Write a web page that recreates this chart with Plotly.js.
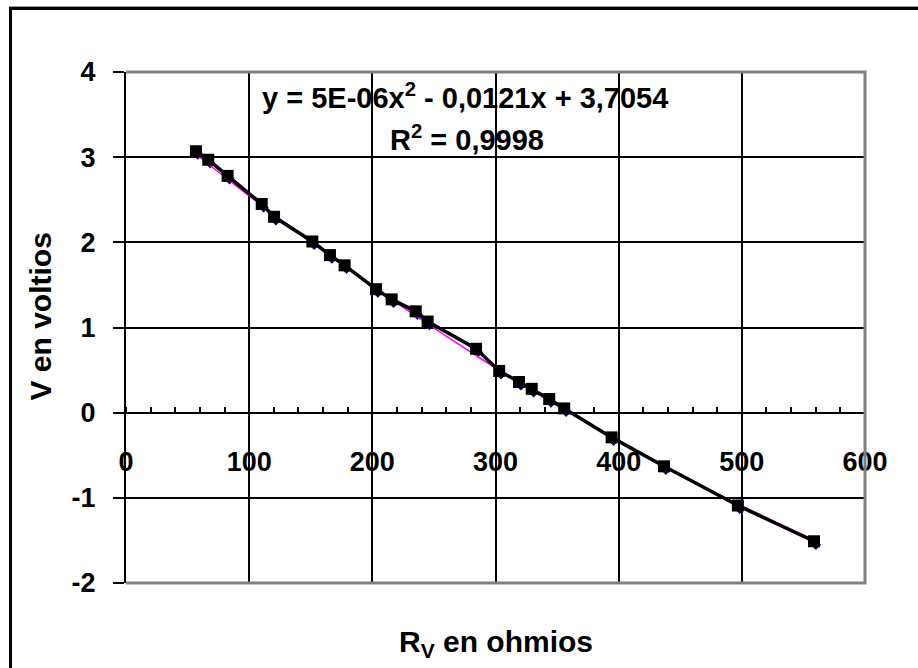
<!DOCTYPE html>
<html>
<head>
<meta charset="utf-8">
<script src="https://cdn.plot.ly/plotly-3.0.1.min.js"></script>
<style>
  html, body { margin: 0; padding: 0; background: #fff; }
  #wrap { position: relative; width: 918px; height: 668px; overflow: hidden; }
  #chart { position: absolute; left: 0; top: 0; width: 918px; height: 668px; }
  #frame { position: absolute; left: 9px; top: 7px; width: 1200px; height: 1200px;
           border-top: 3px solid #000; border-left: 3px solid #000;
           box-shadow: 0 -1px 0 #a0a0a0; pointer-events: none; }
</style>
</head>
<body>
<div id="wrap">
  <div id="chart"></div>
  <div id="frame"></div>
</div>
<script>
// Resistance (ohms) and voltage (V) — black squares series
const rSquares = [56.8, 66.8, 82.5, 110.2, 120.2, 151.3, 165.6, 177.5, 203, 215.7, 235.2, 244.9, 284.2, 303, 319.1, 329.4, 343.6, 355.8, 394.3, 436.8, 496.8, 558.6];
const vSquares = [3.07, 2.97, 2.78, 2.45, 2.30, 2.01, 1.85, 1.73, 1.45, 1.33, 1.19, 1.07, 0.75, 0.49, 0.36, 0.28, 0.16, 0.05, -0.29, -0.63, -1.09, -1.51];
// Blue diamond series (measured)
const rDiamonds = [58.3, 68.3, 84, 111.7, 121.7, 152.8, 167.1, 179, 204.5, 217.2, 236.7, 246.4, 285.7, 304.5, 320.6, 330.9, 345.1, 357.3, 395.8, 438.3, 498.3, 560.1];
const vDiamonds = [3.03, 2.93, 2.74, 2.41, 2.26, 1.97, 1.81, 1.69, 1.41, 1.29, 1.15, 1.03, 0.71, 0.45, 0.32, 0.24, 0.12, 0.01, -0.33, -0.67, -1.13, -1.55];
// Polynomial trendline coefficients as printed on the chart (a x^2 + b x + c)
const trendCoef = [5e-6, -0.0121, 3.7054];
const trendText = ['y = 5E-06x<sup>2</sup> - 0,0121x + 3,7054', 'R<sup>2</sup> = 0,9998'];
// Tick labels
const xTickVals = [0, 100, 200, 300, 400, 500, 600];
const xTickText = ['0', '100', '200', '300', '400', '500', '600'];
const yTickVals = [-2, -1, 0, 1, 2, 3, 4];
const yTickText = ['-2', '-1', '0', '1', '2', '3', '4'];
const xTitle = 'R<sub>V</sub> en ohmios';
const yTitle = 'V en voltios';

const trendY = rDiamonds.map(x => trendCoef[0] * x * x + trendCoef[1] * x + trendCoef[2]);

const FONT = 'Arial, "Liberation Sans", sans-serif';

const traces = [
  { x: rDiamonds, y: vDiamonds, type: 'scatter', mode: 'markers',
    marker: { symbol: 'diamond', size: 8, color: '#000080' }, hoverinfo: 'x+y' },
  { x: rDiamonds, y: trendY, type: 'scatter', mode: 'lines',
    line: { color: '#FF00FF', width: 1.5, shape: 'spline' }, hoverinfo: 'skip' },
  { x: rSquares, y: vSquares, type: 'scatter', mode: 'lines+markers',
    line: { color: '#000000', width: 3.5 },
    marker: { symbol: 'square', size: 12, color: '#000000' } }
];

const layout = {
  width: 918, height: 668,
  margin: { l: 126, r: 53, t: 72, b: 85 },
  paper_bgcolor: '#ffffff', plot_bgcolor: '#ffffff',
  showlegend: false,
  font: { family: FONT, color: '#000', size: 27, weight: 'bold' },
  xaxis: {
    range: [0, 600], anchor: 'free', position: 1/3,
    tickvals: xTickVals, ticktext: xTickText,
    showgrid: true, gridcolor: '#000', gridwidth: 2,
    zeroline: false,
    showline: true, linecolor: '#000', linewidth: 2,
    ticks: '', ticklabelstandoff: 25,
    tickfont: { family: FONT, size: 27, color: '#000', weight: 'bold' },
    minor: { dtick: 20, ticks: 'inside', ticklen: 5, tickwidth: 2, tickcolor: '#000', showgrid: false }
  },
  yaxis: {
    range: [-2, 4],
    tickvals: yTickVals, ticktext: yTickText,
    showgrid: true, gridcolor: '#000', gridwidth: 2,
    zeroline: false,
    showline: true, linecolor: '#000', linewidth: 2,
    ticks: 'outside', ticklen: 11, tickwidth: 2, tickcolor: '#000',
    ticklabelstandoff: 12,
    tickfont: { family: FONT, size: 27, color: '#000', weight: 'bold' }
  },
  shapes: [
    { type: 'path', xref: 'paper', yref: 'paper', path: 'M 0 1 L 1 1 L 1 0 L 0 0',
      line: { color: '#808080', width: 3 }, layer: 'above' }
  ],
  annotations: [
    { text: trendText[0], xref: 'paper', yref: 'paper', x: 0.459, y: 0.954,
      xanchor: 'center', yanchor: 'middle', showarrow: false,
      font: { family: FONT, size: 29, color: '#000', weight: 'bold' } },
    { text: trendText[1], xref: 'paper', yref: 'paper', x: 0.461, y: 0.870,
      xanchor: 'center', yanchor: 'middle', showarrow: false,
      font: { family: FONT, size: 29, color: '#000', weight: 'bold' } },
    { text: xTitle, xref: 'paper', yref: 'paper', x: 0.5, y: -0.118,
      xanchor: 'center', yanchor: 'middle', showarrow: false,
      font: { family: FONT, size: 30, color: '#000', weight: 'bold' } },
    { text: yTitle, xref: 'paper', yref: 'paper', x: -0.116, y: 0.522,
      xanchor: 'center', yanchor: 'middle', showarrow: false, textangle: -90,
      font: { family: FONT, size: 30, color: '#000', weight: 'bold' } }
  ]
};

Plotly.newPlot('chart', traces, layout, { staticPlot: true, displayModeBar: false });
</script>
</body>
</html>
